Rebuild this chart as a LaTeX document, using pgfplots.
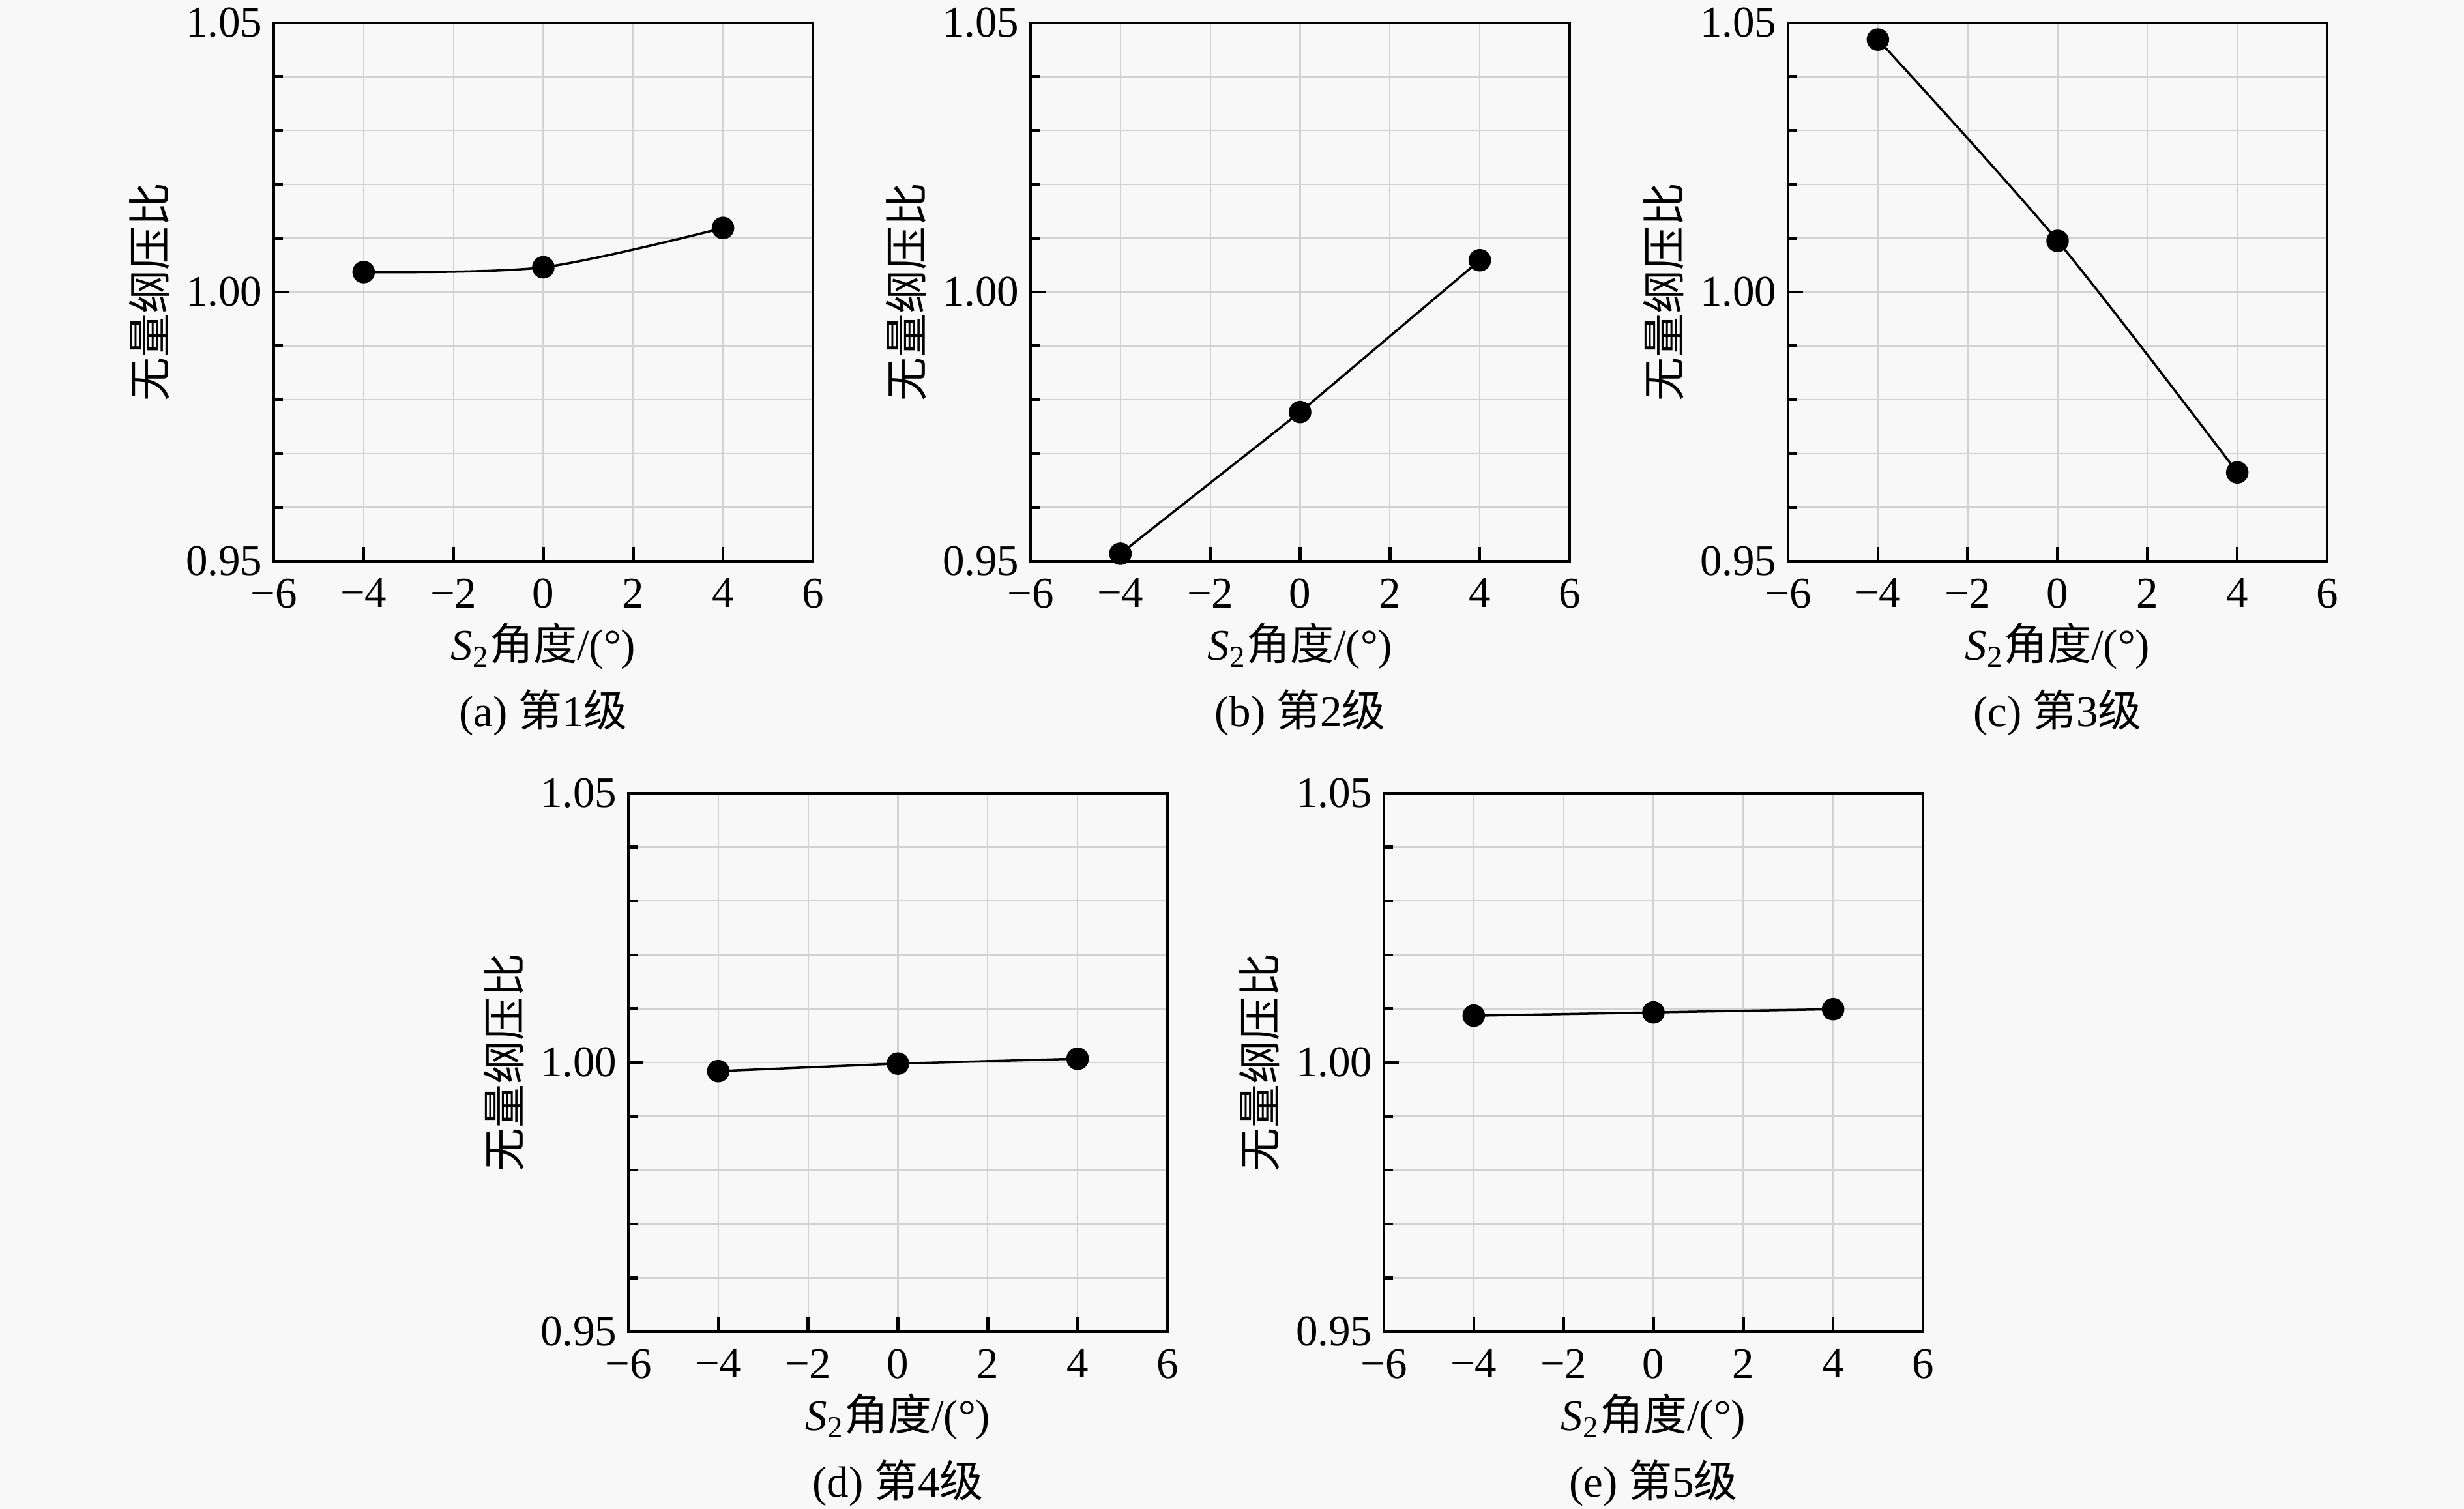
\documentclass[border=0pt]{standalone}
\usepackage{fontspec}
\setmainfont{Liberation Serif}
\newfontfamily\cjk{Noto Sans CJK SC}
\usepackage{pgfplots}
\pgfplotsset{compat=1.18}
\definecolor{bgc}{RGB}{248,248,248}
\definecolor{gridc}{RGB}{210,210,210}
\newcommand{\fs}{\fontsize{13.4}{16}\selectfont}
\pgfplotsset{
  panel/.style={
    scale only axis, width=165.4pt, height=165.2pt,
    anchor=north west,
    xmin=-6, xmax=6, ymin=0.95, ymax=1.05,
    xtick={-6,-4,-2,0,2,4,6}, xticklabels={−6,−4,−2,0,2,4,6},
    ytick={0.95,1,1.05}, yticklabels={0.95,1.00,1.05},
    minor ytick={0.96,0.97,0.98,0.99,1.01,1.02,1.03,1.04},
    grid=both,
    major grid style={line width=0.45pt, draw=gridc},
    minor grid style={line width=0.45pt, draw=gridc},
    tick align=inside, xtick pos=left, ytick pos=left,
    major tick length=4.5pt, minor tick length=2.7pt,
    every tick/.style={black, line width=0.9pt},
    axis line style={line width=0.9pt, black},
    tick label style={font=\fs},
    xticklabel style={yshift=-1.8pt},
    label style={font=\fs},
    xlabel={\textit{S}\textsubscript{2}{\cjk 角度}/(°)},
    ylabel={\cjk 无量纲压比},
    xlabel style={at={(axis description cs:0.5,-0.158)}, anchor=center},
    ylabel style={at={(axis description cs:-0.231,0.5)}, anchor=center},
    title style={at={(axis description cs:0.5,-0.318)}, anchor=center, font=\fs},
  },
  dat/.style={black, line width=0.7pt, mark=*, mark size=3.1pt, mark options={solid, fill=black}},
}
\pgfplotstableread{
x y
-4 1.0037
0 1.0046
4 1.0119
}\tA
\pgfplotstableread{
x y
-4 0.9514
0 0.9777
4 1.0059
}\tB
\pgfplotstableread{
x y
-4 1.0469
0 1.0095
4 0.9665
}\tC
\pgfplotstableread{
x y
-4 0.9984
0 0.9998
4 1.0007
}\tD
\pgfplotstableread{
x y
-4 1.0087
0 1.0093
4 1.0099
}\tE
\begin{document}
\begin{tikzpicture}
\useasboundingbox (0,0) rectangle (756pt,-463pt);
\fill[bgc] (0,0) rectangle (756pt,-463pt);
\begin{axis}[panel, at={(84pt,-7pt)}, title={(a) {\cjk 第}1{\cjk 级}}]
\addplot[dat, smooth] table[x=x,y=y] {\tA};
\end{axis}
\begin{axis}[panel, at={(316.2pt,-7pt)}, title={(b) {\cjk 第}2{\cjk 级}}]
\addplot[dat] table[x=x,y=y] {\tB};
\end{axis}
\begin{axis}[panel, at={(548.6pt,-7pt)}, title={(c) {\cjk 第}3{\cjk 级}}]
\addplot[dat, smooth] table[x=x,y=y] {\tC};
\end{axis}
\begin{axis}[panel, at={(192.8pt,-243.4pt)}, title={(d) {\cjk 第}4{\cjk 级}}]
\addplot[dat] table[x=x,y=y] {\tD};
\end{axis}
\begin{axis}[panel, at={(424.6pt,-243.4pt)}, title={(e) {\cjk 第}5{\cjk 级}}]
\addplot[dat] table[x=x,y=y] {\tE};
\end{axis}
\end{tikzpicture}
\end{document}
